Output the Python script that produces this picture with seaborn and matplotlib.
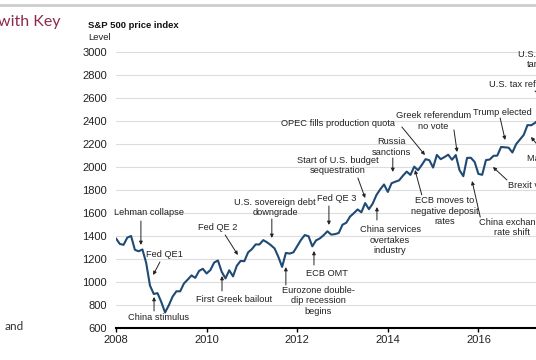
import numpy as np
import pandas as pd
import seaborn as sns
import matplotlib.pyplot as plt
from matplotlib.lines import Line2D

sns.set_theme(style="white")
plt.rcParams['font.family'] = ['Liberation Sans', 'DejaVu Sans']

# monthly S&P 500 level, Jan 2008 onward
start_year = 2008
spx = [
    1379, 1331, 1323, 1386, 1400, 1280, 1267, 1283, 1166, 969, 896, 903,
    826, 735, 798, 873, 919, 919, 987, 1021, 1057, 1036, 1096, 1115,
    1074, 1104, 1169, 1187, 1089, 1031, 1102, 1049, 1141, 1183, 1181, 1258,
    1286, 1327, 1326, 1364, 1345, 1321, 1292, 1219, 1131, 1253, 1247, 1258,
    1312, 1366, 1408, 1398, 1310, 1362, 1379, 1407, 1441, 1412, 1416, 1426,
    1498, 1515, 1569, 1598, 1631, 1606, 1686, 1633, 1682, 1757, 1806, 1848,
    1783, 1859, 1872, 1884, 1924, 1960, 1931, 2003, 1972, 2018, 2068, 2059,
    1995, 2105, 2068, 2086, 2107, 2063, 2104, 1972, 1920, 2079, 2080, 2044,
    1940, 1932, 2060, 2065, 2097, 2099, 2174, 2171, 2168, 2126, 2199, 2239,
    2279, 2364, 2363, 2384, 2412,
]
year_ticks = [2008, 2010, 2012, 2014, 2016, 2018]
level_ticks = [600, 800, 1000, 1200, 1400, 1600, 1800, 2000, 2200, 2400, 2600, 2800, 3000]

df = pd.DataFrame({"year": start_year + np.arange(len(spx)) / 12, "level": spx})

# label, text position, ha, arrow start, arrow tip
events = [
    ("Lehman collapse", (2008.73, 1600), "center", (2008.55, 1530), (2008.55, 1322)),
    ("Fed QE1", (2009.08, 1235), "center", (2008.97, 1174), (2008.82, 1061)),
    ("China stimulus", (2008.95, 687), "center", (2008.84, 748), (2008.84, 870)),
    ("Fed QE 2", (2010.25, 1478), "center", (2010.41, 1409), (2010.69, 1235)),
    ("First Greek bailout", (2010.60, 852), "center", (2010.34, 922), (2010.34, 1052)),
    ("U.S. sovereign debt\ndowngrade", (2011.51, 1644), "center", (2011.44, 1548), (2011.44, 1383)),
    ("Eurozone double-\ndip recession\nbegins", (2012.46, 835), "center", (2011.75, 974), (2011.75, 1130)),
    ("ECB OMT", (2012.66, 1078), "center", (2012.37, 1148), (2012.37, 1270)),
    ("Fed QE 3", (2012.88, 1722), "center", (2012.70, 1661), (2012.70, 1496)),
    ("Start of U.S. budget\nsequestration", (2012.90, 2009), "center", (2013.34, 1904), (2013.50, 1730)),
    ("China services\novertakes\nindustry", (2014.05, 1365), "center", (2013.76, 1539), (2013.76, 1652)),
    ("Russia\nsanctions", (2014.09, 2174), "center", (2014.11, 2078), (2014.11, 1957)),
    ("OPEC fills production quota", (2012.90, 2374), "center", (2014.31, 2348), (2014.82, 2104)),
    ("Greek referendum\nno vote", (2015.00, 2400), "center", (2015.46, 2322), (2015.53, 2130)),
    ("ECB moves to\nnegative deposit\nrates", (2015.26, 1617), "center", (2014.75, 1757), (2014.60, 1974)),
    ("China exchange\nrate shift", (2016.74, 1470), "center", (2016.04, 1565), (2015.86, 1878)),
    ("Trump elected", (2016.52, 2478), "center", (2016.48, 2426), (2016.59, 2235)),
    ("Brexit vote", (2016.65, 1843), "left", (2016.63, 1887), (2016.32, 2000)),
    ("Macron elected", (2017.07, 2078), "left", (2017.36, 2165), (2017.16, 2261)),
    ("U.S. tax reform", (2016.23, 2713), "left", (2017.25, 2661), (2017.69, 2496)),
    ("U.S. steel\ntariffs", (2017.32, 2935), "center", None, None),
]

fig = plt.figure(figsize=(5.36, 3.6), dpi=100)
ax = fig.add_axes([0.2164, 0.0889, 0.9086, 0.7667])

sns.lineplot(data=df, x="year", y="level", ax=ax, color="#1f4a73", lw=1.5)

for label, txt, ha, a0, a1 in events:
    ax.text(txt[0], txt[1], label, ha=ha, va="center", fontsize=6.7,
            color="#222222", linespacing=1.15)
    if a0 is not None:
        ax.annotate("", xy=a1, xytext=a0,
                    arrowprops=dict(arrowstyle="-|>", lw=0.7, color="#222222",
                                    mutation_scale=5, shrinkA=0, shrinkB=0))

ax.set_xlim(2008, 2018.75)
ax.set_ylim(600, 3000)
ax.set_xticks(year_ticks)
ax.set_yticks(level_ticks)
ax.set_xlabel("")
ax.set_ylabel("")
ax.grid(axis="y", color="#dddddd", lw=0.8)
ax.grid(axis="x", visible=False)
for s in ["top", "right", "left"]:
    ax.spines[s].set_visible(False)
ax.spines["bottom"].set_color("black")
ax.spines["bottom"].set_linewidth(1.5)
ax.tick_params(axis="y", length=0, pad=6.5, labelsize=8, labelcolor="#222222")
ax.tick_params(axis="x", length=3, width=1, direction="out", color="black",
               pad=2, labelsize=8, labelcolor="#222222", bottom=True)

fig.text(0.164, 0.928, "S&P 500 price index", fontsize=6.8, fontweight="bold",
         va="center", ha="left", color="#111111")
fig.text(0.164, 0.897, "Level", fontsize=6.8, va="center", ha="left", color="#222222")

fig.text(-0.004, 0.939, "with Key", fontsize=11.5, color="#8b2b4e", va="center",
         ha="left", family=["Lato", "DejaVu Sans"])
fig.text(0.008, 0.092, "and", fontsize=8.5, color="#333333", va="center",
         ha="left", family=["Lato", "DejaVu Sans"])
fig.add_artist(Line2D([0, 1], [0.986, 0.986], transform=fig.transFigure,
                      color="#cccccc", lw=2))

fig.savefig("out.png", dpi=100)
